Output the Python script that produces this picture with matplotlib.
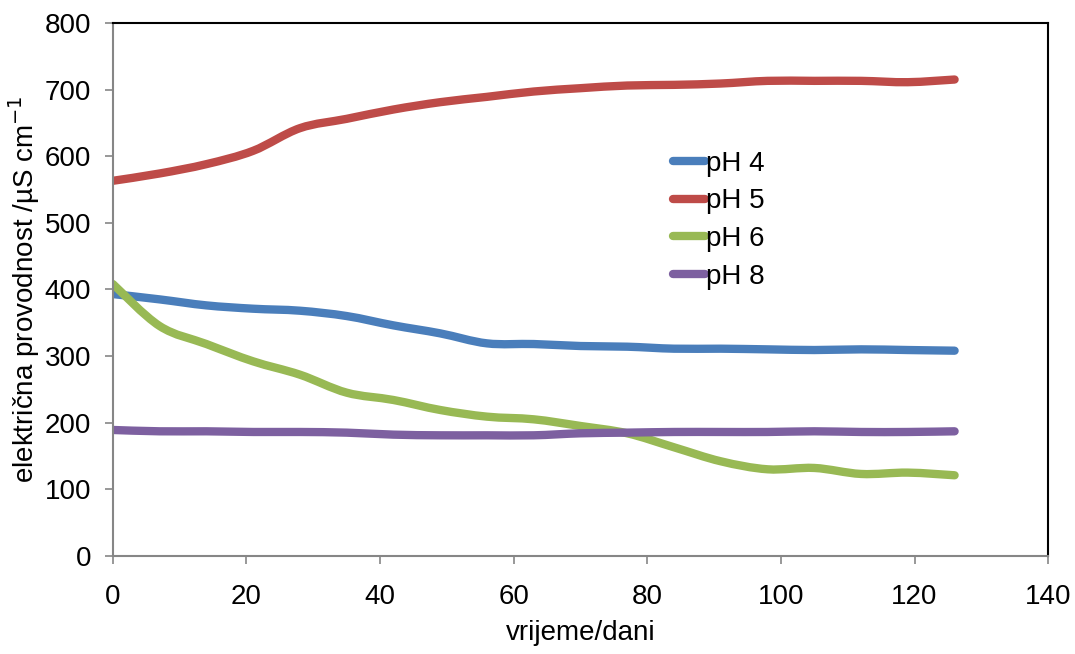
import numpy as np
import matplotlib
matplotlib.use("Agg")
import matplotlib.pyplot as plt
from matplotlib.path import Path
from matplotlib.patches import PathPatch
from matplotlib.lines import Line2D

plt.rcParams['font.family'] = ['Liberation Sans', 'DejaVu Sans']

# dani mjerenja
dani = [0, 7, 14, 21, 28, 35, 42, 49, 56, 63, 70, 77, 84, 91, 98, 105, 112, 119, 126]

# električna provodnost / uS cm-1
ph4 = [393, 385, 376, 371, 368, 360, 346, 334, 319, 318, 315, 314, 311, 311, 310, 309, 310, 309, 308]
ph5 = [563, 574, 588, 608, 642, 656, 670, 681, 689, 697, 702, 706, 707, 709, 713, 713, 713, 711, 715]
ph6 = [408, 345, 318, 292, 272, 245, 234, 219, 209, 205, 195, 184, 163, 142, 130, 132, 123, 125, 121]
ph8 = [189, 187, 187, 186, 186, 185, 182, 181, 181, 181, 184, 185, 186, 186, 186, 187, 186, 186, 187]

serije = [("pH 4", ph4, "#4a7ebb"), ("pH 5", ph5, "#be4b48"),
          ("pH 6", ph6, "#98b954"), ("pH 8", ph8, "#7d60a0")]

FS = 20


def glatka_putanja(x, y):
    # Bezier putanja kroz tocke (kao "smoothed line" u Excelu)
    x = np.asarray(x, float)
    y = np.asarray(y, float)
    n = len(x)
    verts = [(x[0], y[0])]
    codes = [Path.MOVETO]
    for i in range(n - 1):
        i0 = max(i - 1, 0)
        i3 = min(i + 2, n - 1)
        c1 = (x[i] + (x[i + 1] - x[i0]) / 6, y[i] + (y[i + 1] - y[i0]) / 6)
        c2 = (x[i + 1] - (x[i3] - x[i]) / 6, y[i + 1] - (y[i3] - y[i]) / 6)
        verts += [c1, c2, (x[i + 1], y[i + 1])]
        codes += [Path.CURVE4] * 3
    return Path(verts, codes)


fig = plt.figure(figsize=(10.75, 6.54), dpi=100)
ax = fig.add_axes([0.105, 0.150, 0.870, 0.815])

handles = []
for ime, vrijednosti, boja in serije:
    p = PathPatch(glatka_putanja(dani, vrijednosti), facecolor="none", edgecolor=boja,
                  lw=6, capstyle="round", joinstyle="round")
    ax.add_patch(p)
    handles.append(Line2D([], [], color=boja, lw=6, solid_capstyle="round", label=ime))

ax.set_xlim(0, 140)
ax.set_ylim(0, 800)
ax.set_xticks(np.arange(0, 141, 20))
ax.set_yticks(np.arange(0, 801, 100))

for s in ["left", "bottom"]:
    ax.spines[s].set_color("#868686")
    ax.spines[s].set_linewidth(1.5)
for s in ["top", "right"]:
    ax.spines[s].set_color("black")
    ax.spines[s].set_linewidth(1.5)

ax.tick_params(axis="both", direction="out", length=5.5, width=1.2, color="#868686",
               labelsize=FS, labelcolor="black")
ax.tick_params(axis="x", pad=15)
ax.tick_params(axis="y", pad=10)

ax.set_xlabel("vrijeme/dani", fontsize=FS, labelpad=7)
ax.set_ylabel("električna provodnost /µS cm$^{-1}$", fontsize=FS, labelpad=2)

ax.legend(handles=handles, loc="upper left", bbox_to_anchor=(0.587, 0.781),
          frameon=False, fontsize=FS, handlelength=1.15, handletextpad=0.05,
          labelspacing=0.42, borderaxespad=0)

fig.savefig("out.png", dpi=100)
